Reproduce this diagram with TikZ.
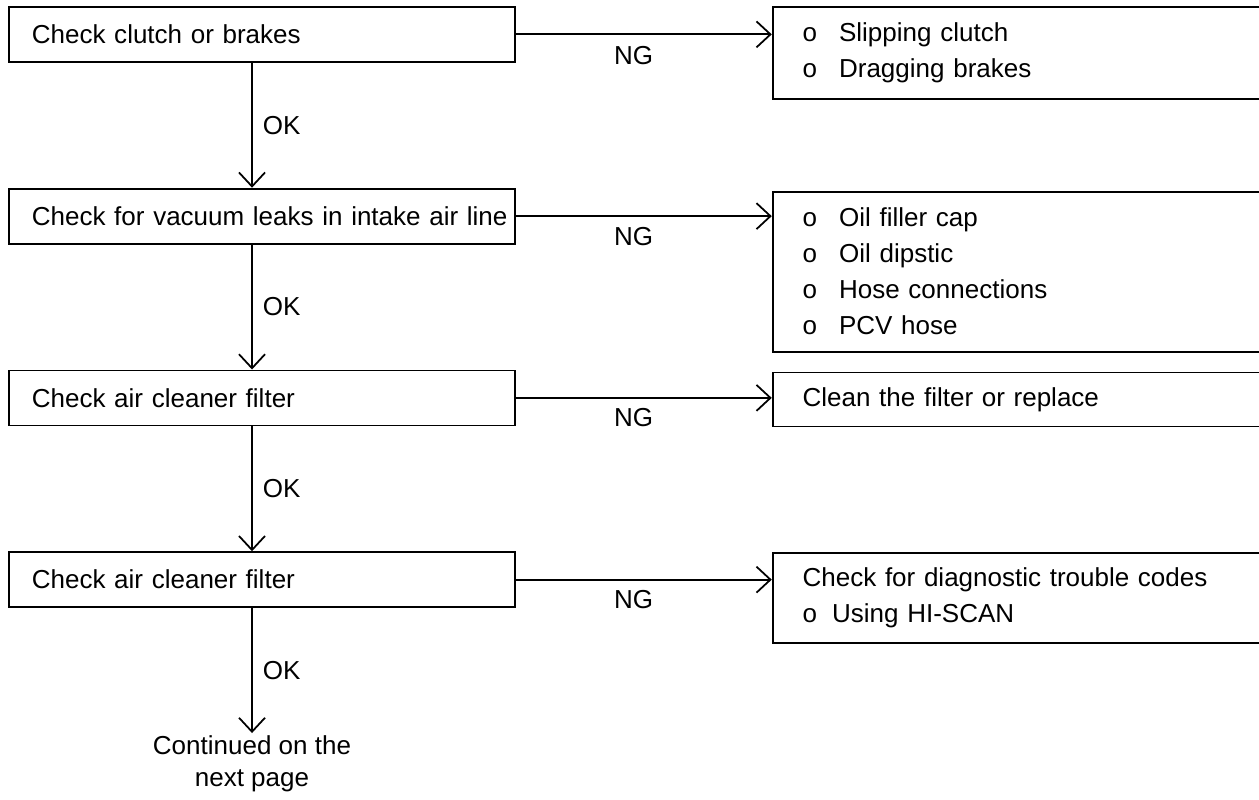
\documentclass[tikz,border=0pt]{standalone}
\usepackage{fontspec}
\setmainfont{Liberation Sans}
\usetikzlibrary{arrows.meta,positioning}
\newcommand{\opt}[1]{o\hspace{0.44cm}#1}

\begin{document}
\begin{tikzpicture}[->,>={Straight Barb[length=2.8mm,width=5.2mm]},auto,node distance=2.5cm,
    line width=1pt,font=\fontsize{14.8}{20.5}\selectfont,
    check/.style={rectangle,draw,minimum width=10.12cm,minimum height=1.1cm,text width=9.2cm,inner xsep=0.46cm,align=left},
    fault/.style={rectangle,draw,minimum width=9.9cm,text width=8.7cm,inner xsep=0.6cm,align=left}]

  \path[use as bounding box,clip] (0,0) rectangle (25.18,-16);

  % checks, top to bottom
  \node[check,anchor=north west] (c1) at (0.16,-0.12) {Check clutch or brakes};
  \node[check] (c2) [below=of c1] {\mbox{Check for vacuum leaks in intake air line}};
  \node[check] (c3) [below=of c2] {Check air cleaner filter};
  \node[check] (c4) [below=of c3] {Check air cleaner filter};

  % what to do when NG
  \node[fault,minimum height=1.84cm] (r1) [right=5.12cm of c1.north east,anchor=north west]
    {\opt{Slipping clutch}\\ \opt{Dragging brakes}};
  \node[fault,minimum height=3.2cm] (r2) [right=5.12cm of c2.north east,anchor=north west,yshift=-0.06cm]
    {\opt{Oil filler cap}\\ \opt{Oil dipstic}\\ \opt{Hose connections}\\ \opt{PCV hose}};
  \node[fault,minimum height=1.08cm] (r3) [right=5.12cm of c3.north east,anchor=north west,yshift=-0.04cm]
    {Clean the filter or replace};
  \node[fault,minimum height=1.8cm] (r4) [right=5.12cm of c4.north east,anchor=north west,yshift=-0.02cm]
    {Check for diagnostic trouble codes\\ o\hspace{0.3cm}Using HI-SCAN};

  \coordinate (spine) at ([xshift=4.88cm]c1.south west);
  \node[align=center,inner sep=1pt,anchor=north,font=\fontsize{14.8}{18}\selectfont] (next)
    at ([yshift=-2.5cm]spine |- c4.south) {Continued on the\\next page};

  \draw (spine |- c1.south) -- node[inner xsep=0.2cm] {OK} (spine |- c2.north);
  \draw (spine |- c2.south) -- node[inner xsep=0.2cm] {OK} (spine |- c3.north);
  \draw (spine |- c3.south) -- node[inner xsep=0.2cm] {OK} (spine |- c4.north);
  \draw (spine |- c4.south) -- node[inner xsep=0.2cm] {OK} (next);

  \draw (c1.east) -- node[swap,pos=0.46,yshift=-0.1cm] {NG} (c1.east -| r1.west);
  \draw (c2.east) -- node[swap,pos=0.46,yshift=-0.08cm] {NG} (c2.east -| r2.west);
  \draw (c3.east) -- node[swap,pos=0.46,yshift=-0.08cm] {NG} (c3.east -| r3.west);
  \draw (c4.east) -- node[swap,pos=0.46,yshift=-0.08cm] {NG} (c4.east -| r4.west);

\end{tikzpicture}
\end{document}
